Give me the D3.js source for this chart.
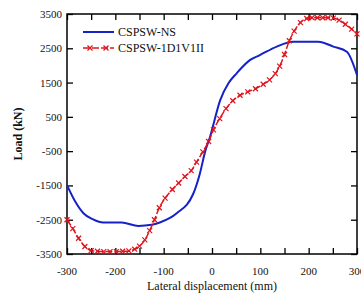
<!doctype html>
<html lang="en">
<head>
<meta charset="utf-8">
<script src="https://d3js.org/d3.v7.min.js"></script>
<style>
body { margin: 0; background: #fff; }
svg text { font-family: "Liberation Serif", "Times New Roman", serif; fill: #111; }
.axis path { display: none; }
.axis line { stroke: #000; stroke-width: 1.3; }
</style>
</head>
<body>
<div id="vis-container"></div>
<script>

// CSPSW-NS (blue, plain line)
var nsDisp = [-300,-283,-266,-246,-225,-187,-152,-125,-108,-73,-39,-25,-14,-4,17,34,51,79,99,134,168,220,251,279,300];
var nsLoad = [-1490,-1970,-2310,-2490,-2580,-2580,-2680,-2650,-2580,-2310,-1750,-1150,-500,-80,990,1480,1770,2160,2300,2550,2690,2690,2550,2400,1720];

// CSPSW-1D1V1II (red, dashed with x markers)
var dvDisp = [-300,-288,-276,-263,-250,-237,-224,-211,-198,-185,-172,-160,-150,-139,-129,-119,-109,-97,-82,-69,-56,-43,-32,-19,-7,3,16,29,43,58,74,90,106,119,131,140,150,160,170,183,196,207,218,229,240,251,263,276,289,300];
var dvLoad = [-2500,-2760,-3040,-3280,-3400,-3420,-3430,-3430,-3430,-3420,-3410,-3360,-3270,-3090,-2820,-2500,-2150,-1870,-1620,-1430,-1240,-1070,-820,-520,-220,120,450,740,970,1130,1230,1320,1450,1580,1760,1980,2320,2720,3000,3250,3370,3390,3390,3390,3390,3380,3320,3200,3060,2920];

var xLabelTicks = [-300,-200,-100,0,100,200,300];
var xTicks = [-300,-250,-200,-150,-100,-50,0,50,100,150,200,250,300];
var yTicks = [-3500,-2500,-1500,-500,500,1500,2500,3500];
var seriesNames = ["CSPSW-NS", "CSPSW-1D1V1II"];

var margin = { top: 14, right: 4, bottom: 44, left: 67 },
    width  = 361 - margin.left - margin.right,
    height = 298 - margin.top  - margin.bottom;

var svg = d3.select("#vis-container").append("svg")
    .attr("width", 361).attr("height", 298);
var g = svg.append("g")
    .attr("transform", "translate(" + margin.left + "," + margin.top + ")");

var x = d3.scaleLinear().domain([-300, 300]).range([0, width]);
var y = d3.scaleLinear().domain([-3500, 3500]).range([height, 0]);

// inward ticks on all four sides
g.append("g").attr("class", "axis")
    .attr("transform", "translate(0," + height + ")")
    .call(d3.axisTop(x).tickValues(xTicks).tickSize(6).tickFormat(""));
g.append("g").attr("class", "axis")
    .call(d3.axisBottom(x).tickValues(xTicks).tickSize(6).tickFormat(""));
g.append("g").attr("class", "axis")
    .call(d3.axisRight(y).tickValues(yTicks).tickSize(6).tickFormat(""));
g.append("g").attr("class", "axis")
    .attr("transform", "translate(" + width + ",0)")
    .call(d3.axisLeft(y).tickValues(yTicks).tickSize(6).tickFormat(""));

// tick labels
g.selectAll(".xl").data(xLabelTicks).enter().append("text")
    .attr("x", function(d) { return x(d); })
    .attr("y", height + 21)
    .attr("text-anchor", "middle")
    .style("font-size", "11px")
    .text(function(d) { return d; });
g.selectAll(".yl").data(yTicks).enter().append("text")
    .attr("x", -5)
    .attr("y", function(d) { return y(d) + 4; })
    .attr("text-anchor", "end")
    .style("font-size", "11px")
    .text(function(d) { return d; });

// frame
g.append("rect")
    .attr("width", width).attr("height", height)
    .attr("fill", "none").attr("stroke", "#000").attr("stroke-width", 1.5);

// axis titles
g.append("text")
    .attr("x", width / 2).attr("y", height + 36)
    .attr("text-anchor", "middle")
    .style("font-size", "12px")
    .text("Lateral displacement (mm)");
g.append("text")
    .attr("transform", "translate(" + (22 - margin.left) + "," + (height / 2) + ") rotate(-90)")
    .attr("text-anchor", "middle")
    .style("font-size", "12px")
    .style("font-weight", "bold")
    .text("Load (kN)");

var line = d3.line()
    .x(function(d) { return x(d[0]); })
    .y(function(d) { return y(d[1]); })
    .curve(d3.curveMonotoneX);

var nsData = nsDisp.map(function(d, i) { return [d, nsLoad[i]]; });
var dvData = dvDisp.map(function(d, i) { return [d, dvLoad[i]]; });

g.append("path").datum(nsData)
    .attr("d", line)
    .attr("fill", "none").attr("stroke", "#1422c8").attr("stroke-width", 2);

g.append("path").datum(dvData)
    .attr("d", line)
    .attr("fill", "none").attr("stroke", "#e0141e").attr("stroke-width", 1.5)
    .attr("stroke-dasharray", "7,2");

var cross = d3.symbol().type(d3.symbolX).size(18);
g.selectAll(".mk").data(dvData).enter().append("path")
    .attr("transform", function(d) { return "translate(" + x(d[0]) + "," + y(d[1]) + ")"; })
    .attr("d", cross)
    .attr("fill", "none").attr("stroke", "#e0141e").attr("stroke-width", 1.2);

// legend
var lg = svg.append("g");
lg.append("line").attr("x1", 83).attr("x2", 114).attr("y1", 32).attr("y2", 32)
    .attr("stroke", "#1422c8").attr("stroke-width", 2);
lg.append("text").attr("x", 118).attr("y", 36).style("font-size", "12px").text(seriesNames[0]);
lg.append("line").attr("x1", 83).attr("x2", 114).attr("y1", 48).attr("y2", 48)
    .attr("stroke", "#e0141e").attr("stroke-width", 1.5).attr("stroke-dasharray", "7,2");
[90, 106].forEach(function(px) {
    lg.append("path").attr("transform", "translate(" + px + ",48)").attr("d", cross)
        .attr("fill", "none").attr("stroke", "#e0141e").attr("stroke-width", 1.2);
});
lg.append("text").attr("x", 118).attr("y", 52).style("font-size", "12px").text(seriesNames[1]);

</script>
</body>
</html>
